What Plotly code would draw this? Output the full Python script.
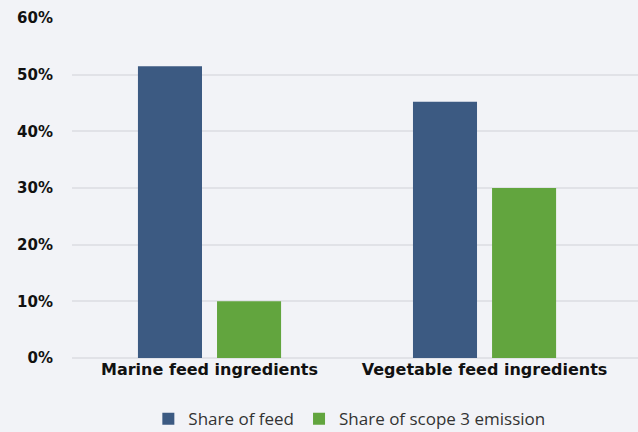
import plotly.graph_objects as go

categories = ["Marine feed ingredients", "Vegetable feed ingredients"]
share_feed = [0.515, 0.452]
share_scope3 = [0.10, 0.30]
series_names = ["Share of feed", "Share of scope 3 emission"]

BG = "#f2f3f7"
BLUE = "#3c5a82"
GREEN = "#62a53e"
GRID = "#e1e2e7"

fig = go.Figure()
fig.add_trace(go.Bar(x=categories, y=share_feed, name=series_names[0],
                     marker_color=BLUE, marker_line_width=0))
fig.add_trace(go.Bar(x=categories, y=share_scope3, name=series_names[1],
                     marker_color=GREEN, marker_line_width=0))

fig.update_layout(
    width=638, height=432,
    paper_bgcolor=BG, plot_bgcolor=BG,
    margin=dict(l=72, r=0, t=18, b=74, autoexpand=False),
    barmode="group", bargap=0.425, bargroupgap=0.19,
    font=dict(family="DejaVu Sans", color="#111111"),
    showlegend=True,
    legend=dict(orientation="h", x=0.49, xanchor="center", y=-0.18, yanchor="middle",
                font=dict(family="Open Sans", size=17, color="#333333"),
                itemwidth=30, bgcolor="rgba(0,0,0,0)"),
)
fig.update_xaxes(range=[-0.5, 1.558], showgrid=False, showline=False, ticks="",
                 tickfont=dict(family="DejaVu Sans", size=16, color="#111111", weight="bold"))
fig.update_yaxes(range=[0, 0.6], tickformat=".0%", dtick=0.1, gridcolor=GRID, gridwidth=1.5,
                 zeroline=True, zerolinecolor=GRID, zerolinewidth=1.5, showline=False,
                 ticks="", ticklabelstandoff=18,
                 tickfont=dict(family="DejaVu Sans", size=15, color="#111111", weight="bold"))

fig.write_html("out.html", config={"displayModeBar": False},
               post_script="document.body.style.margin='0';document.body.style.background='%s';" % BG)
